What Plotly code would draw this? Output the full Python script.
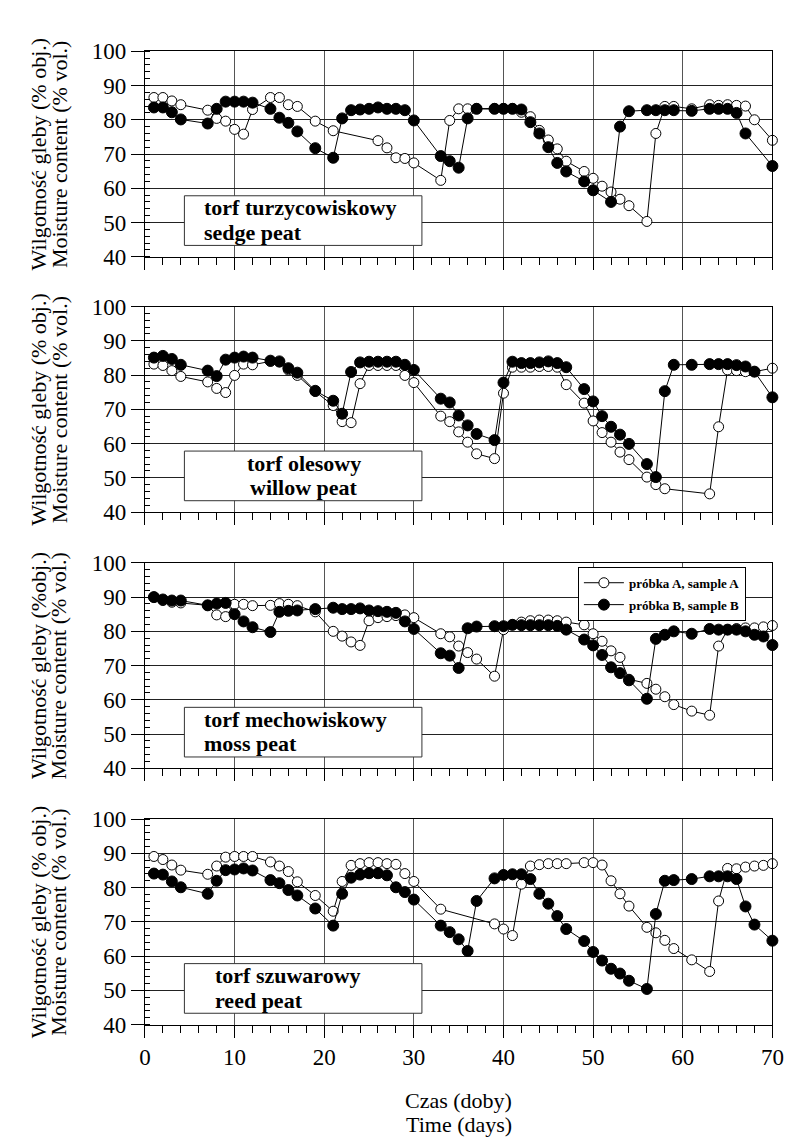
import plotly.graph_objects as go

# ---------------- data ----------------
days_A1 = [1,2,3,4,7,8,9,10,11,12,14,15,16,17,19,21,26,27,28,29,30,33,34,35,36,37,39,40,41,42,43,44,45,46,47,49,50,51,52,53,54,56,57,58,59,61,63,64,65,66,67,68,70]
vals_A1 = [86.5,86.5,85.5,84.4,82.8,80.4,79.6,77.2,75.8,83.0,86.5,86.5,84.4,83.9,79.6,76.8,73.9,71.8,68.9,68.7,67.4,62.3,79.8,83.2,83.2,83.3,83.3,83.3,83.3,82.2,80.9,76.9,74.1,71.5,67.9,64.9,62.9,60.6,58.9,56.8,54.9,50.3,76.0,83.9,83.9,83.2,84.4,84.2,84.4,84.2,84.0,80.0,74.0]
days_B1 = [1,2,3,4,7,8,9,10,11,12,14,15,16,17,19,21,22,23,24,25,26,27,28,29,30,33,34,35,36,37,39,40,41,42,43,44,45,46,47,49,50,52,53,54,56,57,58,59,61,63,64,65,66,67,70]
vals_B1 = [83.6,83.6,82.2,80.1,78.9,83.2,85.3,85.3,85.3,85.0,83.2,80.6,79.1,76.6,71.7,68.9,80.4,82.8,83.0,83.2,83.6,83.2,83.2,82.8,79.8,69.4,67.9,66.0,80.4,83.2,83.2,83.2,83.2,83.0,79.3,76.0,72.0,67.4,64.9,62.0,59.4,56.0,78.0,82.5,82.8,82.8,82.8,82.8,82.6,83.2,83.2,83.2,82.0,76.0,66.5]

days_A2 = [1,2,3,4,7,8,9,10,11,12,14,15,16,17,19,21,22,23,24,25,26,27,28,29,30,33,34,35,36,37,39,40,41,42,43,44,45,46,47,49,50,51,52,53,54,56,57,58,63,64,65,66,67,68,70]
vals_A2 = [83.2,82.8,81.3,79.6,78.0,76.1,74.9,79.9,83.2,83.0,84.0,83.8,81.5,79.9,75.2,71.1,66.4,66.1,77.5,82.8,82.8,82.8,82.8,79.9,77.8,68.0,66.4,63.4,60.4,57.0,55.6,74.7,82.3,82.3,82.3,82.5,82.5,82.3,77.2,71.8,66.6,63.2,60.4,57.5,55.3,50.2,48.0,46.8,45.3,64.9,81.5,81.3,81.0,81.0,82.0]
days_B2 = [1,2,3,4,7,8,9,10,11,12,14,15,16,17,19,21,22,23,24,25,26,27,28,29,30,33,34,35,36,37,39,40,41,42,43,44,45,46,47,49,50,51,52,53,54,56,57,58,59,61,63,64,65,66,67,68,70]
vals_B2 = [85.1,85.6,84.7,83.0,81.3,79.7,84.5,85.1,85.4,85.1,84.2,84.0,82.0,80.7,75.4,72.5,68.7,80.9,83.7,83.9,83.9,83.9,83.9,83.0,81.5,73.1,72.0,68.2,65.3,62.8,61.0,77.8,83.9,83.5,83.5,83.7,84.0,83.5,82.3,75.9,72.3,68.0,64.9,62.6,59.9,54.0,50.2,75.3,83.0,83.0,83.2,83.2,83.2,82.9,82.5,81.0,73.5]

days_A3 = [1,2,3,4,7,8,9,10,11,12,14,15,16,17,19,21,22,23,24,25,26,27,28,29,30,33,34,35,36,37,39,40,41,42,43,44,45,46,47,49,50,51,52,53,54,56,57,58,59,61,63,64,65,66,67,68,69,70]
vals_A3 = [90.0,89.0,88.5,88.3,87.6,84.8,84.3,87.9,87.9,87.5,87.6,88.1,87.9,87.5,85.7,80.0,78.6,76.9,75.9,83.1,84.0,84.3,84.6,84.8,84.0,79.3,78.4,75.7,73.8,71.9,66.9,80.5,81.9,82.7,83.1,83.3,83.3,83.1,82.7,81.9,79.3,77.1,74.3,72.4,66.0,64.8,63.1,60.9,58.6,56.7,55.5,75.7,80.5,80.8,81.0,81.0,81.3,81.7]
days_B3 = [1,2,3,4,7,8,9,10,11,12,14,15,16,17,19,21,22,23,24,25,26,27,28,29,30,33,34,35,36,37,39,40,41,42,43,44,45,46,47,49,50,51,52,53,54,56,57,58,59,61,63,64,65,66,67,68,69,70]
vals_B3 = [90.0,89.3,89.0,89.0,87.6,88.1,88.3,85.0,82.9,81.2,79.8,85.7,86.0,86.1,86.5,86.9,86.5,86.5,86.7,86.1,85.9,85.7,85.4,82.9,80.7,73.6,72.9,69.3,80.9,81.4,81.5,81.5,81.9,81.8,81.8,81.8,81.8,81.6,80.5,77.6,75.9,73.1,69.5,67.8,65.7,60.3,77.8,79.0,80.0,79.3,80.7,80.5,80.5,80.5,80.0,79.0,78.5,76.0]

days_A4 = [1,2,3,4,7,8,9,10,11,12,14,15,16,17,19,21,22,23,24,25,26,27,28,29,30,33,39,40,41,42,43,44,45,46,47,49,50,51,52,53,54,56,57,58,59,61,63,64,65,66,67,68,69,70]
vals_A4 = [89.1,88.2,86.6,85.1,83.9,86.3,88.9,89.1,89.1,89.1,87.5,86.3,84.7,81.7,77.7,73.1,81.8,86.5,87.0,87.3,87.3,87.0,86.8,84.1,81.8,73.7,69.4,67.9,66.0,81.0,86.3,86.7,87.0,87.0,87.0,87.3,87.3,86.6,82.0,78.2,74.6,68.4,66.8,64.6,62.2,58.9,55.5,76.1,85.6,85.5,86.0,86.3,86.5,87.0]
days_B4 = [1,2,3,4,7,8,9,10,11,12,14,15,16,17,19,21,22,23,24,25,26,27,28,29,30,33,34,35,36,37,39,40,41,42,43,44,45,46,47,49,50,51,52,53,54,56,57,58,59,61,63,64,65,66,67,68,70]
vals_B4 = [84.1,83.8,81.8,80.1,78.2,82.0,85.1,85.3,85.6,85.0,82.2,81.3,79.3,77.7,73.9,68.9,78.2,82.9,83.8,84.2,84.2,83.6,80.1,78.7,76.5,68.9,67.0,64.9,61.5,76.1,82.7,83.7,83.9,83.9,82.5,78.2,75.3,71.7,67.9,64.4,61.2,58.7,56.3,54.9,52.8,50.4,72.3,82.0,82.2,82.5,83.3,83.3,83.3,82.5,74.5,69.2,64.5]

peat_pl = ["torf turzycowiskowy", "torf olesowy", "torf mechowiskowy", "torf szuwarowy"]
peat_en = ["sedge peat", "willow peat", "moss peat", "reed peat"]
ytitle_pl = ["Wilgotność gleby (% obj.)", "Wilgotność gleby (% obj.)", "Wilgotność gleby (%obj.)", "Wilgotność gleby (% obj.)"]
ytitle_en = "Moisture content (% vol.)"
series_names = ["próbka A, sample A", "próbka B, sample B"]
xtitle_pl = "Czas (doby)"
xtitle_en = "Time (days)"
x_ticks = [0, 10, 20, 30, 40, 50, 60, 70]
y_ticks = [40, 50, 60, 70, 80, 90, 100]

A_sets = [(days_A1, vals_A1), (days_A2, vals_A2), (days_A3, vals_A3), (days_A4, vals_A4)]
B_sets = [(days_B1, vals_B1), (days_B2, vals_B2), (days_B3, vals_B3), (days_B4, vals_B4)]

# ---------------- layout geometry ----------------
W, H = 793, 1144
X0, X1 = 134, 776
panels_px = [(32, 242), (293, 503), (555, 765), (817, 1027)]
label_x = [6.4, 17.7, 6.4, 7.6]
label_anchor = ["left", "center", "left", "left"]
FONT = "Liberation Serif"

fig = go.Figure()
layout = dict(
    width=W, height=H, margin=dict(l=0, r=0, t=0, b=0),
    paper_bgcolor="white", plot_bgcolor="white",
    font=dict(family=FONT, color="black", size=22),
    showlegend=True,
)
annotations = []
shapes = []

for i in range(4):
    n = i + 1
    xa = "x" if n == 1 else f"x{n}"
    ya = "y" if n == 1 else f"y{n}"
    top, bot = panels_px[i]
    dA, vA = A_sets[i]
    dB, vB = B_sets[i]
    fig.add_trace(go.Scatter(
        x=dA, y=vA, mode="lines+markers", name="<b>" + series_names[0] + "</b>",
        line=dict(color="black", width=1),
        marker=dict(symbol="circle", size=10, color="white", line=dict(color="black", width=1)),
        xaxis=xa, yaxis=ya, showlegend=(i == 0), legendgroup="A", cliponaxis=False))
    fig.add_trace(go.Scatter(
        x=dB, y=vB, mode="lines+markers", name="<b>" + series_names[1] + "</b>",
        line=dict(color="black", width=1),
        marker=dict(symbol="circle", size=11, color="black", line=dict(color="black", width=1)),
        xaxis=xa, yaxis=ya, showlegend=(i == 0), legendgroup="B", cliponaxis=False))

    layout["xaxis" if n == 1 else f"xaxis{n}"] = dict(
        domain=[X0 / W, X1 / W], anchor=ya, range=[0, 70],
        tickvals=x_ticks, ticks="outside", ticklen=12, tickwidth=1, tickcolor="black",
        showline=True, linecolor="black", linewidth=1, mirror=True,
        showgrid=True, gridcolor="#555", gridwidth=1.3, zeroline=False,
        showticklabels=(n == 4), tickfont=dict(family=FONT, size=23, color="black"),
        minor=dict(dtick=2, tick0=0, ticks="outside", ticklen=7, tickcolor="black", tickwidth=1, showgrid=False),
    )
    layout["yaxis" if n == 1 else f"yaxis{n}"] = dict(
        domain=[1 - bot / H, 1 - top / H], anchor=xa, range=[40, 100],
        tickvals=y_ticks, ticks="outside", ticklen=13, tickwidth=1, tickcolor="black",
        showline=True, linecolor="black", linewidth=1, mirror=True,
        showgrid=True, gridcolor="#222", gridwidth=1.3, zeroline=False,
        tickfont=dict(family=FONT, size=23, color="black"),
        minor=dict(dtick=2, tick0=40, ticks="inside", ticklen=5, tickcolor="black", tickwidth=1, showgrid=False),
    )
    # label box
    shapes.append(dict(type="rect", xref=xa, yref=ya, x0=4.4, x1=30.9, y0=43.3, y1=57.8,
                       line=dict(color="#333", width=1), fillcolor="white", layer="above"))
    tx, anc = label_x[i], label_anchor[i]
    annotations.append(dict(xref=xa, yref=ya, x=tx, y=54.3, xanchor=anc, yanchor="middle",
                            text="<b>" + peat_pl[i] + "</b>", showarrow=False,
                            font=dict(family=FONT, size=22, color="black")))
    annotations.append(dict(xref=xa, yref=ya, x=tx, y=47.1, xanchor=anc, yanchor="middle",
                            text="<b>" + peat_en[i] + "</b>", showarrow=False,
                            font=dict(family=FONT, size=22, color="black")))
    # y titles
    yc = 1 - ((top + bot) / 2) / H
    annotations.append(dict(xref="paper", yref="paper", x=25 / W, y=yc, xanchor="center", yanchor="middle",
                            text=ytitle_pl[i], textangle=-90, showarrow=False,
                            font=dict(family=FONT, size=22, color="black")))
    annotations.append(dict(xref="paper", yref="paper", x=46 / W, y=yc, xanchor="center", yanchor="middle",
                            text=ytitle_en, textangle=-90, showarrow=False,
                            font=dict(family=FONT, size=22, color="black")))

xc = ((X0 + X1) / 2) / W
annotations.append(dict(xref="paper", yref="paper", x=xc, y=1 - 1105 / H, xanchor="center", yanchor="middle",
                        text=xtitle_pl, showarrow=False, font=dict(family=FONT, size=22, color="black")))
annotations.append(dict(xref="paper", yref="paper", x=xc, y=1 - 1129 / H, xanchor="center", yanchor="middle",
                        text=xtitle_en, showarrow=False, font=dict(family=FONT, size=22, color="black")))

layout["annotations"] = annotations
layout["shapes"] = shapes
layout["legend"] = dict(x=577 / W, y=1 - 559 / H, xanchor="left", yanchor="top",
                        bgcolor="white", bordercolor="black", borderwidth=1,
                        font=dict(family=FONT, size=13, color="black"),
                        tracegroupgap=2, itemwidth=40)
fig.update_layout(**layout)
fig.write_html("out.html")
